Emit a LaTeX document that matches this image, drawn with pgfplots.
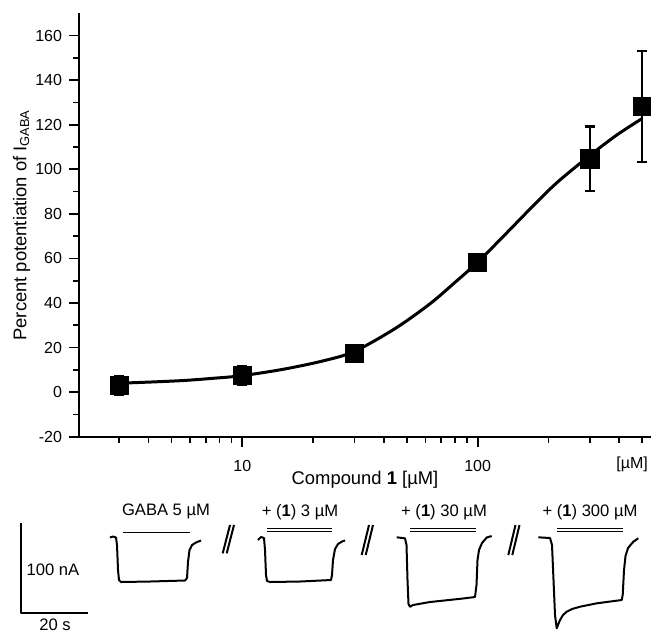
\documentclass[border=0pt]{standalone}
\usepackage{fontspec}
\setmainfont{Liberation Sans}
\usepackage{pgfplots}
\pgfplotsset{compat=1.18}

\begin{document}
\begin{tikzpicture}[font=\fontsize{8}{9.6}\selectfont]
% frame of the whole figure (1 px of the reference = 0.5pt)
\path[use as bounding box] (-39.5pt,-98.15pt) rectangle (286pt,218.35pt);
% dose-response curve
\begin{axis}[
  at={(0,0)}, anchor=south west,
  scale only axis, width=286pt, height=211.7pt,
  xmode=log, xmin=2.025, xmax=545,
  ymin=-20, ymax=170,
  axis x line*=bottom, axis y line*=left,
  axis line style={line width=1pt,-},
  tick align=outside,
  tick style={line width=0.9pt,black},
  major tick length=5pt, minor tick length=3pt,
  xtick={10,100}, xticklabels={10,100},
  minor xtick={3,4,5,6,7,8,9,20,30,40,50,60,70,80,90,200,300,400},
  extra x ticks={500}, extra x tick labels={[µM]},
  extra x tick style={major tick length=3pt, xticklabel style={xshift=-5pt}},
  tick label style={font=\fontsize{8}{9.6}\selectfont},
  xticklabel style={yshift=-3.5pt},
  ytick={-20,0,...,160}, minor y tick num=1,
  /pgf/number format/assume math mode=true,
  xlabel={Compound \textbf{1} [µM]},
  ylabel={Percent potentiation of I\textsubscript{GABA}},
  xlabel style={at={(axis description cs:0.5,-0.102)}, anchor=center, font=\fontsize{9.2}{11}\selectfont},
  ylabel style={at={(axis description cs:-0.1002,0.5)}, anchor=center, font=\fontsize{9.2}{11}\selectfont},
  clip=false,
]
\addplot[black, line width=1.5pt, smooth, no marks] coordinates {
(3,4.0)(4,4.5)(5.6,5.2)(7.5,6.2)(10,7.4)(15,10.3)(22,14.0)(30,18.3)
(45,28.8)(63,39.8)(80,49.2)(100,58.3)(128,69.7)(167,82.2)(216,93.8)
(298,106.0)(389,115.3)(500,122.8)
};
\addplot[black, only marks, mark=square*, mark size=4.6pt,
  error bars/.cd, y dir=both, y explicit,
  error bar style={line width=1.2pt},
  error mark options={rotate=90, mark size=2.6pt, line width=1.2pt}]
coordinates {
(3,3.0) +- (0,4)
(10,7.5) +- (0,4)
(30,17.5) +- (0,3)
(100,58.3) +- (0,3)
(300,104.7) +- (0,14.5)
(500,128.2) +- (0,25)
};
\end{axis}
% current traces, drawn in picture pixel units
\begin{axis}[
  at={(-39.5pt,218.35pt)}, anchor=north west,
  scale only axis, width=325.5pt, height=316.5pt,
  xmin=0, xmax=651, ymin=0, ymax=633, y dir=reverse,
  hide axis, clip=false,
  tr/.style={black, solid, line width=1pt, no marks, line join=round},
  bar/.style={black, solid, line width=0.6pt, no marks},
  nodes={font=\fontsize{8.3}{10}\selectfont},
]
% scale bar
\addplot[tr] coordinates {(21,522.7)(21,613.3)(87.7,613.3)};
\node at (axis cs:53,570) {100 nA};
\node at (axis cs:55,625) {20 s};
% GABA 5 uM
\addplot[bar] coordinates {(123.3,532.7)(190,532.7)};
\addplot[tr] coordinates {(110,537.5)(113,536.5)(116,537.5)(117,545)(118,570)(119,580)(121,582)
(150,581.5)(185,580.5)(187,578)(188,562)(189.5,550)(192,545)(196,542.5)(201,540.5)};
\node at (axis cs:166,511.7) {GABA 5 µM};
% 3 uM
\addplot[bar] coordinates {(266.7,528.5)(332,528.5)};
\addplot[bar] coordinates {(266.7,531.7)(332,531.7)};
\addplot[tr] coordinates {(258,540)(261,537)(264,538)(265,550)(266,575)(267,581)(270,582)
(300,581.5)(331,580)(332,575)(333,560)(335,549)(338,544)(342,541.5)(345,540.5)};
\node at (axis cs:300,511.7) {+ (\textbf{1}) 3 µM};
% 30 uM
\addplot[bar] coordinates {(410,528.5)(475.7,528.5)};
\addplot[bar] coordinates {(410,531.7)(475.7,531.7)};
\addplot[tr] coordinates {(396.7,537.3)(405,538.3)(406.5,545)(407.5,580)(408.5,604)(410,606.7)
(413,605)(430,602)(463,598.5)(475,597)(476.5,585)(477.5,560)(479,550)(482,543)(486.7,537.5)(491.7,536)};
\node at (axis cs:444,511.7) {+ (\textbf{1}) 30 µM};
% 300 uM
\addplot[bar] coordinates {(556.7,528.5)(622.7,528.5)};
\addplot[bar] coordinates {(556.7,531.7)(622.7,531.7)};
\addplot[tr] coordinates {(538.3,537.3)(550,538)(552,545)(553.5,580)(555,615)(556.7,628.3)
(558,625)(560,620)(563,615)(566.7,611.7)(572,609)(580,606.7)(596.7,603.3)(621.7,600)
(622.7,595)(624,570)(625.5,556)(628,548)(633.3,541.7)(638.3,538.3)};
\node at (axis cs:590,511.7) {+ (\textbf{1}) 300 µM};
% break marks
\addplot[tr] coordinates {(222.7,553.3)(230,525)};
\addplot[tr] coordinates {(226.7,553.3)(234,525)};
\addplot[tr] coordinates {(361.7,555)(369,525)};
\addplot[tr] coordinates {(365.7,555)(373,525)};
\addplot[tr] coordinates {(508.3,555)(515.5,525)};
\addplot[tr] coordinates {(512.3,555)(519.5,525)};
\end{axis}
\end{tikzpicture}
\end{document}
